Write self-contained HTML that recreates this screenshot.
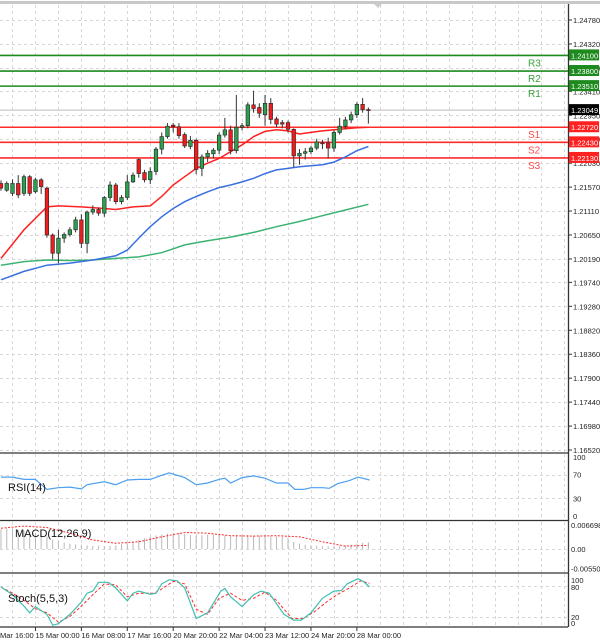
<!DOCTYPE html>
<html><head><meta charset="utf-8"><style>
html,body{margin:0;padding:0;background:#fff;}
svg{display:block;font-family:"Liberation Sans",sans-serif;}
</style></head><body>
<svg id="c" width="600" height="643" viewBox="0 0 600 643"></svg>
<script>
// ---- data ----
const openP=[1.2164,1.2151,1.2145,1.2164,1.2145,1.2177,1.2148,1.2171,1.2155,1.2065,1.2030,1.2059,1.2066,1.2075,1.2094,1.2049,1.2109,1.2114,1.2107,1.2137,1.2161,1.2129,1.2137,1.2167,1.2210,1.2185,1.2171,1.2187,1.2230,1.2254,1.2276,1.2273,1.2258,1.2235,1.2247,1.2193,1.2215,1.2221,1.2228,1.2257,1.2267,1.2227,1.2272,1.2275,1.2315,1.2310,1.2296,1.2318,1.2288,1.2281,1.2281,1.2268,1.2217,1.2222,1.2225,1.2232,1.2242,1.2242,1.2232,1.2262,1.2274,1.2286,1.2296,1.2316,1.2306];
const highP=[1.2170,1.2168,1.2172,1.2180,1.2181,1.2180,1.2175,1.2174,1.2158,1.2068,1.2075,1.2070,1.2080,1.2100,1.2105,1.2112,1.2122,1.2118,1.2140,1.2168,1.2165,1.2142,1.2180,1.2185,1.2212,1.2190,1.2195,1.2234,1.2262,1.2280,1.2280,1.2280,1.2262,1.2255,1.2250,1.2220,1.2228,1.2232,1.2262,1.2290,1.2275,1.2334,1.2280,1.2320,1.2342,1.2318,1.2334,1.2328,1.2292,1.2286,1.2285,1.2270,1.2230,1.2232,1.2236,1.2250,1.2248,1.2252,1.2266,1.2290,1.2292,1.2302,1.2320,1.2328,1.2310];
const lowP=[1.2150,1.2148,1.2140,1.2136,1.2140,1.2140,1.2145,1.2144,1.2060,1.2018,1.2011,1.2050,1.2062,1.2070,1.2040,1.2030,1.2104,1.2102,1.2100,1.2130,1.2124,1.2124,1.2132,1.2165,1.2175,1.2166,1.2163,1.2180,1.2220,1.2250,1.2262,1.2250,1.2232,1.2230,1.2182,1.2178,1.2205,1.2212,1.2220,1.2252,1.2220,1.2222,1.2266,1.2270,1.2300,1.2290,1.2275,1.2278,1.2272,1.2270,1.2262,1.2195,1.2200,1.2210,1.2220,1.2228,1.2230,1.2212,1.2225,1.2258,1.2268,1.2280,1.2290,1.2300,1.2279];
const closeP=[1.2155,1.2164,1.2164,1.2142,1.2177,1.2145,1.2171,1.2158,1.2065,1.2030,1.2059,1.2066,1.2075,1.2094,1.2049,1.2109,1.2114,1.2107,1.2137,1.2161,1.2129,1.2137,1.2167,1.2180,1.2183,1.2171,1.2187,1.2230,1.2254,1.2274,1.2273,1.2256,1.2236,1.2247,1.2191,1.2215,1.2222,1.2228,1.2257,1.2267,1.2227,1.2272,1.2275,1.2315,1.2308,1.2299,1.2318,1.2287,1.2278,1.2278,1.2268,1.2217,1.2222,1.2225,1.2232,1.2244,1.2241,1.2232,1.2262,1.2274,1.2286,1.2296,1.2316,1.2306,1.2305];
const maRedIdx=[0,4,8,10,14,18,20,23,26,28,30,32,34,36,38,40,42,44,46,48,50,52,54,56,58,60,62,64];
const maRed=[1.2020,1.2075,1.2119,1.2121,1.2119,1.2116,1.2114,1.2119,1.2121,1.2139,1.2161,1.2177,1.2193,1.2203,1.2212,1.2225,1.2238,1.2254,1.2264,1.2267,1.2265,1.2259,1.2262,1.2265,1.2267,1.2269,1.2271,1.2272];
const maBlueIdx=[0,4,8,12,16,20,22,24,26,28,30,32,34,36,38,40,42,44,46,48,50,52,54,56,58,60,62,64];
const maBlue=[1.1979,1.1995,1.2007,1.2011,1.2017,1.2025,1.2036,1.2059,1.2081,1.2100,1.2116,1.2129,1.2139,1.2148,1.2156,1.2161,1.2167,1.2174,1.2183,1.2190,1.2193,1.2196,1.2198,1.2200,1.2205,1.2215,1.2227,1.2235];
const maGreenIdx=[0,4,8,12,16,20,24,28,32,36,40,44,48,52,56,60,64];
const maGreen=[1.2007,1.2014,1.2017,1.2016,1.2017,1.2020,1.2023,1.2031,1.2046,1.2054,1.2061,1.2070,1.2081,1.2091,1.2102,1.2113,1.2124];
const resLevels=[1.2410,1.2380,1.2351];
const resNames=["R3","R2","R1"];
const supLevels=[1.2272,1.2243,1.2213];
const supNames=["S1","S2","S3"];
const lastPrice=1.23049;
const priceTicks=["1.24780","1.24320","1.23860","1.23410","1.22950","1.22490","1.22030","1.21570","1.21110","1.20650","1.20190","1.19740","1.19280","1.18820","1.18360","1.17900","1.17440","1.16980","1.16520"];
const rsiIdx=[0,2,4,6,8,10,12,14,15,18,20,22,24,26,28,29.3,32,34,36,38,39,40,42,44,46,48,50,51.2,52.7,54,56,57.2,58.7,60.7,62.2,64.2];
const rsiVal=[66,66,62,62,45,48,49,46,53,58,53,61,62,62,69,73,65,53,56,62,64,56,65,68,64,56,56,45,45,48,48,47,55,60,66,61];
const macdHist=[5.5,5.8,5.6,5.3,5.0,4.8,4.5,4.2,3.5,2.6,2.2,1.8,1.5,1.3,1.2,1.0,0.9,0.9,0.8,0.9,1.0,1.3,1.6,2.0,2.5,3.0,3.4,3.8,4.1,4.3,4.5,4.4,4.2,3.9,3.7,3.8,4.0,4.1,3.9,3.8,3.6,3.8,3.9,3.9,3.8,3.7,3.7,3.6,3.5,3.4,3.2,2.0,1.5,1.2,1.0,0.9,0.8,0.7,0.7,0.8,1.0,1.2,1.5,1.7,1.9];
const macdSigIdx=[0,4,8,12,16,20,24,28,32,36,40,44,48,52,56,60,64];
const macdSig=[5.8,6.4,6.0,4.4,2.5,1.6,2.0,3.4,4.6,4.4,3.7,3.6,3.7,3.4,2.0,0.8,1.0];
const stochIdx=[0,2,4,5,6,8,9,10,12,14,15,16,17,18.7,20,22,23,24,26,27,28,29.3,30.7,32,34,36,38.3,39,40,42,44,45.3,46.7,49.3,51,52.3,54,56,58,59.3,60.3,62.2,63.2,64.2];
const stochMain=[78,63,41,28,40,25,4,7,25,49,66,70,87,87,76,51,66,70,64,66,84,92,90,76,17,28,70,75,59,40,63,70,66,25,14,14,28,56,70,71,84,94,88,78];
const stochSigIdx=[0,2,4,6,8,10,12,14,16,18,20,22,24,26.7,28,30,32,34,36,38,40,42,44,46,48,50.7,52.7,54.7,56.7,58.7,60.7,62.7,64.2];
const stochSig=[78,66,52,36,28,10,21,41,63,84,82,59,66,66,74,89,84,35,25,56,66,52,56,68,52,17,17,31,49,64,76,90,85];
const dateLabels=["14 Mar 16:00","15 Mar 00:00","16 Mar 08:00","17 Mar 16:00","20 Mar 20:00","22 Mar 04:00","23 Mar 12:00","24 Mar 20:00","28 Mar 00:00"];
const dateIdx=[-2,6,14,22,30,38,46,54,62];

// ---- scales ----
const NS='http://www.w3.org/2000/svg';
const svg=document.getElementById('c');
const PW=568;
const xI=i=>i*5.74+1;
const yP=p=>20+(1.2478-p)*5206;
const yR=v=>516-v*0.59;
const yM=v=>549-v*(24/6.698);
const yS=v=>627.3-v*0.517;
function el(t,a,parent){const e=document.createElementNS(NS,t);for(const k in a)e.setAttribute(k,a[k]);(parent||svg).appendChild(e);return e;}
function txt(s,a){const e=el('text',a);e.textContent=s;return e;}

// grid
const grid=el('g',{stroke:'#d8d8d8','stroke-width':1,'stroke-dasharray':'3,3'});


for(let k=62;k>-4;k-=4){const x=Math.round(xI(k))+.5;[[5,452],[454,520],[522,572],[574,626]].forEach(r=>el('line',{x1:x,x2:x,y1:r[0],y2:r[1]},grid));}
for(let k=66;k<100;k+=4){const x=Math.round(xI(k))+.5;if(x<PW)[[5,452],[454,520],[522,572],[574,626]].forEach(r=>el('line',{x1:x,x2:x,y1:r[0],y2:r[1]},grid));}
priceTicks.forEach(t=>{const y=Math.round(yP(+t))+.5;el('line',{x1:0,x2:PW,y1:y,y2:y},grid);});
[70,30].forEach(v=>{const y=Math.round(yR(v))+.5;el('line',{x1:0,x2:PW,y1:y,y2:y},grid);});
[0].forEach(v=>{const y=Math.round(yM(v))+.5;el('line',{x1:0,x2:PW,y1:y,y2:y},grid);});
[80,20].forEach(v=>{const y=Math.round(yS(v))+.5;el('line',{x1:0,x2:PW,y1:y,y2:y},grid);});

// frame
el('rect',{x:0,y:1,width:600,height:3,fill:'#c8c8c8'});
const fr=el('g',{stroke:'#333','stroke-width':1.3});


el('line',{x1:PW+.5,x2:PW+.5,y1:4,y2:627},fr);
[453,520.5,573,627].forEach(y=>el('line',{x1:0,x2:PW,y1:y,y2:y},fr));
el('polygon',{points:'374,4 382,4 378,8',fill:'#ccc'});

// price ticks
priceTicks.forEach(t=>{const y=yP(+t);
 el('line',{x1:PW,x2:PW+4,y1:y,y2:y,stroke:'#333'});
 const e=txt(t,{x:573,y:y+3,'font-size':7.5,fill:'#222'});
 
 });

// current price line
el('line',{x1:0,x2:PW,y1:yP(lastPrice),y2:yP(lastPrice),stroke:'#bbb','stroke-width':1});

// levels
function level(p,name,col,txtCol,boxCol){
 const y=yP(p);
 const l=el('line',{x1:0,x2:PW,y1:y,y2:y,stroke:col,'stroke-width':1.6});
 
 
 const t=txt(name,{x:528,y:y+11,'font-size':10,fill:txtCol});
 
 
 el('rect',{x:PW+1,y:y-6,width:30,height:11,fill:boxCol});
 const b=txt(p.toFixed(5),{x:571,y:y+3,'font-size':7.5,fill:'#fff'});
 
 
}
resLevels.forEach((p,i)=>level(p,resNames[i],'#1d8a1d','#3aa03a','#1d8a1d'));
supLevels.forEach((p,i)=>level(p,supNames[i],'#ff2b2b','#ff4a4a','#ff2020'));
el('rect',{x:PW+1,y:yP(lastPrice)-6,width:30,height:11,fill:'#000'});
const lp=txt(lastPrice.toFixed(5),{x:571,y:yP(lastPrice)+3,'font-size':7.5,fill:'#fff'});



// MAs
function poly(idx,vals,fy,col,w,dash,name){
 const pts=idx.map((i,k)=>xI(i).toFixed(1)+','+fy(vals[k]).toFixed(1)).join(' ');
 const a={points:pts,fill:'none',stroke:col,'stroke-width':w};
 if(dash)a['stroke-dasharray']=dash;
 const e=el('polyline',a);
 
 
}
poly(maGreenIdx,maGreen,yP,'#3cb371',1.5,null,'ma-green');
poly(maBlueIdx,maBlue,yP,'#3a6fe0',1.5,null,'ma-blue');
poly(maRedIdx,maRed,yP,'#ff2020',1.5,null,'ma-red');

// candles
openP.forEach((o,i)=>{
 const c=closeP[i],x=xI(i),up=c>=o;
 const g=el('g',{});
 
 
 el('line',{x1:x,x2:x,y1:yP(highP[i]),y2:yP(lowP[i]),stroke:'#333','stroke-width':1},g);
 const t=yP(Math.max(o,c)),b=yP(Math.min(o,c));
 el('rect',{x:x-1.8,y:t,width:3.6,height:Math.max(1,b-t),fill:up?'#2e9e4f':'#ee1c1c',stroke:'#222','stroke-width':0.6},g);
});

// RSI
poly(rsiIdx,rsiVal,yR,'#4d9ff0',1.2,null,'rsi-line');
[[100,'100'],[70,'70'],[30,'30'],[0,'0']].forEach(a=>{const e=txt(a[1],{x:573,y:yR(a[0])+3,'font-size':7.5,fill:'#222'});});
const rl=txt('RSI(14)',{x:8,y:491,'font-size':11,fill:'#111'});



// MACD
macdHist.forEach((v,i)=>{const b=el('line',{x1:xI(i),x2:xI(i),y1:yM(0),y2:yM(v),stroke:'#b8b8b8','stroke-width':1});
 
 });
poly(macdSigIdx,macdSig,yM,'#ff2a2a',1,'2,1.5','macd-signal');
[['0.006698',6.698],['0.00',0],['-0.005501',-5.501]].forEach(a=>{const e=txt(a[0],{x:571,y:yM(a[1])+3,'font-size':7.5,fill:'#222'});});
const ml=txt('MACD(12,26,9)',{x:15,y:537,'font-size':11,fill:'#111'});



// Stoch
poly(stochSigIdx,stochSig,yS,'#ff2a2a',1,'3,2','stoch-signal');
poly(stochIdx,stochMain,yS,'#3fbfb0',1.2,null,'stoch-main');
[['100',580],['80',587],['20',617],['0',623]].forEach(a=>{const e=txt(a[0],{x:571,y:a[1]+3,'font-size':7.5,fill:'#222'});});
const sl=txt('Stoch(5,5,3)',{x:8,y:602,'font-size':11,fill:'#111'});



// date axis
dateLabels.forEach((d,k)=>{const x=xI(dateIdx[k]);
 el('line',{x1:x,x2:x,y1:627,y2:631,stroke:'#333'});
 const e=txt(d,{x:x,y:638,'font-size':7.5,fill:'#222'});
 
 });
</script>
</body></html>
